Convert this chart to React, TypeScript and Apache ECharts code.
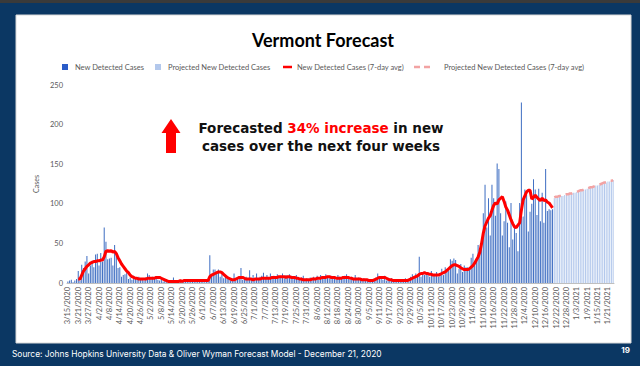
import React, { useEffect, useRef } from "react";
import * as echarts from "echarts";

// ---- Data (daily, 3/15/2020 .. 1/24/2021) ----
const START_YEAR = 2020;
const START_MONTH_INDEX = 2; // March
const START_DAY = 15;
const TOTAL_DAYS = 316;

// Detected new cases, daily
const casesMar = [2, 3, 4, 1, 3, 5, 15, 3, 23, 19, 27, 34, 12, 22, 28, 20, 36];
const casesApr = [37, 22, 38, 27, 70, 52, 30, 31, 32, 22, 48, 35, 19, 20, 8, 10, 11, 13, 5, 7, 4, 9, 6, 5, 8, 4, 6, 3, 7, 12];
const casesMay = [10, 6, 8, 5, 7, 4, 3, 5, 2, 3, 1, 2, 3, 2, 7, 1, 2, 3, 1, 2, 4, 3, 2, 5, 3, 2, 4, 3, 2, 3, 5];
const casesJun = [2, 1, 3, 4, 35, 10, 17, 17, 12, 17, 8, 14, 6, 8, 5, 7, 3, 4, 12, 3, 5, 6, 19, 4, 7, 8, 5, 16, 6, 10];
const casesJul = [5, 12, 6, 8, 9, 13, 7, 10, 5, 12, 8, 9, 6, 11, 7, 9, 12, 6, 10, 8, 11, 9, 5, 7, 10, 6, 4, 7, 9, 5, 6];
const casesAug = [4, 7, 5, 8, 6, 9, 4, 10, 5, 7, 11, 8, 6, 9, 7, 5, 4, 10, 8, 6, 5, 9, 11, 7, 4, 8, 6, 10, 5, 7, 4];
const casesSep = [3, 6, 4, 5, 3, 2, 4, 5, 7, 12, 6, 8, 4, 9, 3, 5, 4, 6, 3, 2, 4, 3, 5, 2, 4, 6, 3, 5, 8, 11];
const casesOct = [7, 12, 9, 33, 8, 14, 10, 11, 13, 8, 15, 9, 11, 14, 8, 12, 18, 10, 20, 14, 16, 30, 28, 31, 29, 12, 18, 24, 14, 22, 20];
const casesNov = [20, 17, 32, 37, 24, 30, 48, 40, 55, 88, 124, 70, 107, 60, 124, 107, 85, 151, 144, 88, 60, 78, 103, 76, 45, 101, 55, 71, 63, 40];
const casesDec = [101, 228, 84, 118, 111, 65, 90, 100, 131, 118, 86, 119, 78, 114, 76, 144, 91, 93, 92, 93];

// 7-day average of detected cases
const avgMar = [null, null, null, null, null, null, 5, 5, 10, 15, 18, 21, 23, 25, 26, 27, 27];
const avgApr = [28, 28, 29, 29, 33, 40, 41, 40, 41, 39, 40, 37, 32, 28, 24, 21, 18, 15, 13, 10, 8, 7, 6, 6, 5, 5, 5, 5, 5, 6];
const avgMay = [6, 6, 6, 6, 7, 7, 7, 6, 5, 4, 3, 2, 2, 2, 2, 2, 2, 2, 3, 2, 3, 3, 3, 3, 3, 3, 3, 3, 3, 3, 3];
const avgJun = [3, 3, 3, 3, 8, 10, 11, 12, 13, 14, 14, 13, 11, 9, 7, 6, 5, 4, 4, 5, 6, 7, 7, 7, 6, 5, 5, 5, 5, 4];
const avgJul = [5, 5, 5, 5, 6, 6, 6, 6, 6, 6, 7, 7, 7, 7, 8, 8, 8, 8, 7, 8, 8, 7, 7, 7, 6, 6, 5, 5, 4, 4, 4];
const avgAug = [4, 4, 5, 5, 5, 6, 6, 6, 7, 7, 7, 8, 8, 7, 7, 7, 6, 6, 6, 6, 7, 7, 7, 7, 6, 6, 5, 5, 5, 5, 5];
const avgSep = [4, 4, 4, 4, 3, 3, 3, 4, 5, 6, 7, 7, 7, 7, 6, 5, 4, 4, 3, 3, 3, 3, 3, 3, 3, 3, 3, 4, 5, 6];
const avgOct = [7, 8, 9, 11, 12, 12, 13, 12, 12, 11, 11, 10, 10, 10, 10, 11, 12, 13, 14, 16, 18, 20, 22, 23, 23, 22, 21, 19, 18, 17, 17];
const avgNov = [17, 18, 20, 22, 25, 29, 33, 39, 50, 63, 72, 77, 82, 85, 92, 98, 101, 100, 105, 107, 109, 103, 96, 92, 86, 80, 75, 71, 70, 73];
const avgDec = [76, 92, 105, 110, 115, 117, 117, 106, 108, 111, 108, 106, 104, 107, 104, 105, 102, 101, 98, 95];

// Projection 12/21/2020 .. 1/24/2021
const projectedCases = [107, 108, 108, 109, 110, 110, 111, 111, 112, 113, 113, 114, 114, 115, 116, 116, 117, 118, 118, 119, 120, 121, 121, 122, 123, 123, 124, 125, 125, 126, 127, 128, 128, 129, 130];
const projectedAvg = [108, 109, 109, 110, 110, 111, 111, 112, 112, 113, 113, 114, 115, 115, 116, 117, 117, 118, 119, 119, 120, 121, 121, 122, 123, 124, 124, 125, 126, 127, 127, 128, 129, 129, 130];

const yTicks = { min: 0, max: 250, interval: 50 };

const SERIES_NAMES = [
  "New Detected Cases",
  "Projected New Detected Cases",
  "New Detected Cases (7-day avg)",
  "Projected New Detected Cases (7-day avg)",
];

const C_BAR = "#4472c4";
const C_LEGEND_BAR = "#2a5cc8";
const C_BAR_PROJ = "#b3c8ec";
const C_LINE = "#ff0000";
const C_LINE_PROJ = "#f2a3a3";
const NAVY = "#0b3763";

function buildDates(): string[] {
  const out: string[] = [];
  for (let i = 0; i < TOTAL_DAYS; i++) {
    const d = new Date(Date.UTC(START_YEAR, START_MONTH_INDEX, START_DAY + i));
    out.push(`${d.getUTCMonth() + 1}/${d.getUTCDate()}/${d.getUTCFullYear()}`);
  }
  return out;
}

export default function App() {
  const ref = useRef<HTMLDivElement>(null);

  useEffect(() => {
    if (!ref.current) return;
    const chart = echarts.init(ref.current, undefined, { renderer: "svg" });

    const dates = buildDates();
    const actual = [...casesMar, ...casesApr, ...casesMay, ...casesJun, ...casesJul, ...casesAug, ...casesSep, ...casesOct, ...casesNov, ...casesDec];
    const avg = [...avgMar, ...avgApr, ...avgMay, ...avgJun, ...avgJul, ...avgAug, ...avgSep, ...avgOct, ...avgNov, ...avgDec];
    const nProj = projectedCases.length;
    const nAct = actual.length;
    const pad = (n: number) => new Array(n).fill(null);

    const legendY = 67;
    const legendFont = { fontSize: 7.5, fontFamily: "Lato", fill: "#595959" };
    const annot = { fontSize: 13.5, fontWeight: 700, fontFamily: "DejaVu Sans", lineHeight: 18 };

    chart.setOption({
      animation: false,
      backgroundColor: NAVY,
      grid: { left: 67, right: 26, top: 85, bottom: 83, containLabel: false },
      xAxis: {
        type: "category",
        data: dates,
        axisLine: { show: true, lineStyle: { color: "#bfbfbf", width: 1 } },
        axisTick: { show: false },
        axisLabel: {
          interval: 5,
          rotate: 90,
          fontSize: 7.5,
          fontFamily: "Lato",
          color: "#595959",
          margin: 4,
        },
        splitLine: { show: false },
      },
      yAxis: {
        type: "value",
        min: yTicks.min,
        max: yTicks.max,
        interval: yTicks.interval,
        axisLine: { show: false },
        axisTick: { show: false },
        splitLine: { show: false },
        axisLabel: { fontSize: 7.5, fontFamily: "Lato", color: "#595959", margin: 4 },
        name: "Cases",
        nameLocation: "middle",
        nameGap: 28,
        nameRotate: 90,
        nameTextStyle: { fontSize: 7, fontFamily: "Lato", color: "#595959" },
      },
      series: [
        {
          name: SERIES_NAMES[0],
          type: "bar",
          data: [...actual, ...pad(nProj)],
          barWidth: "60%",
          barGap: "-100%",
          itemStyle: { color: C_BAR },
          z: 2,
        },
        {
          name: SERIES_NAMES[1],
          type: "bar",
          data: [...pad(nAct), ...projectedCases],
          barWidth: "60%",
          barGap: "-100%",
          itemStyle: { color: C_BAR_PROJ },
          z: 2,
        },
        {
          name: SERIES_NAMES[2],
          type: "line",
          data: [...avg, ...pad(nProj)],
          symbol: "none",
          connectNulls: false,
          lineStyle: { color: C_LINE, width: 3 },
          itemStyle: { color: C_LINE },
          z: 4,
        },
        {
          name: SERIES_NAMES[3],
          type: "line",
          data: [...pad(nAct), ...projectedAvg],
          symbol: "none",
          lineStyle: { color: C_LINE_PROJ, width: 2.5, type: [7, 5] },
          itemStyle: { color: C_LINE_PROJ },
          z: 4,
        },
      ],
      graphic: [
        { type: "rect", z: -10, shape: { x: 0, y: 0, width: 640, height: 3 }, style: { fill: "#3a3a3a" } },
        { type: "rect", z: -10, shape: { x: 16, y: 15, width: 615, height: 328 }, style: { fill: "#ffffff", stroke: "#d9d9d9", lineWidth: 1 } },
        {
          type: "text",
          x: 323,
          y: 40,
          style: { text: "Vermont Forecast", fontSize: 18, fontWeight: 700, fontFamily: "Lato", fill: "#000000", align: "center", verticalAlign: "middle" },
        },
        // legend
        { type: "rect", shape: { x: 62, y: legendY - 3, width: 6, height: 6 }, style: { fill: C_LEGEND_BAR } },
        { type: "text", x: 75, y: legendY, style: { text: SERIES_NAMES[0], ...legendFont, verticalAlign: "middle" } },
        { type: "rect", shape: { x: 155, y: legendY - 3, width: 6, height: 6 }, style: { fill: C_BAR_PROJ } },
        { type: "text", x: 168, y: legendY, style: { text: SERIES_NAMES[1], ...legendFont, verticalAlign: "middle" } },
        { type: "rect", shape: { x: 283, y: legendY - 1.25, width: 9, height: 2.5 }, style: { fill: C_LINE } },
        { type: "text", x: 297, y: legendY, style: { text: SERIES_NAMES[2], ...legendFont, verticalAlign: "middle" } },
        { type: "rect", shape: { x: 414, y: legendY - 1.25, width: 6, height: 2.5 }, style: { fill: C_LINE_PROJ } },
        { type: "rect", shape: { x: 424, y: legendY - 1.25, width: 6, height: 2.5 }, style: { fill: C_LINE_PROJ } },
        { type: "text", x: 444, y: legendY, style: { text: SERIES_NAMES[3], ...legendFont, verticalAlign: "middle" } },
        // annotation arrow
        {
          type: "polygon",
          shape: { points: [[171, 119], [180.5, 133], [176, 133], [176, 153], [166, 153], [166, 133], [161.5, 133]] },
          style: { fill: "#ff0000" },
        },
        {
          type: "text",
          x: 321,
          y: 137,
          style: {
            text: "{a|Forecasted }{r|34% increase}{a| in new}\n{a|cases over the next four weeks}",
            align: "center",
            verticalAlign: "middle",
            rich: {
              a: { ...annot, fill: "#111111", color: "#111111" },
              r: { ...annot, fill: "#ff0000", color: "#ff0000" },
            },
          },
        },
        // footer
        {
          type: "text",
          x: 12,
          y: 354,
          style: { text: "Source: Johns Hopkins University Data & Oliver Wyman Forecast Model - December 21, 2020", fontSize: 8.4, fontFamily: "Inter", fill: "#ffffff", verticalAlign: "middle" },
        },
        {
          type: "text",
          x: 630,
          y: 350,
          style: { text: "19", fontSize: 8, fontWeight: 700, fontFamily: "Inter", fill: "#ffffff", align: "right", verticalAlign: "middle" },
        },
      ],
    });

    return () => chart.dispose();
  }, []);

  return <div ref={ref} style={{ position: "fixed", left: 0, top: 0, width: 640, height: 366 }} />;
}
